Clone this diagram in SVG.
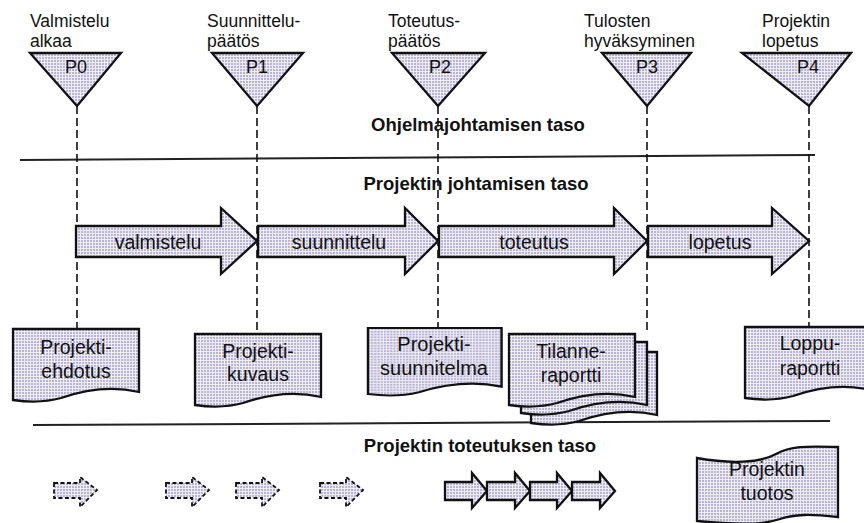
<svg xmlns="http://www.w3.org/2000/svg" width="864" height="523" viewBox="0 0 864 523">
<defs>
<pattern id="dots" width="3" height="3" patternUnits="userSpaceOnUse">
<rect width="3" height="3" fill="#eeecf5"/>
<rect width="2" height="2" fill="#b9b4d4"/>
</pattern>
<path id="doc" d="M0,0 H126 V63 C96,56 68,62 48,69 C30,74 14,73 0,71 Z"/>
</defs>
<style>
.lbl{font-family:"Liberation Sans",Arial,sans-serif;font-size:17.5px;fill:#111}
.in{font-family:"Liberation Sans",Arial,sans-serif;font-size:19.5px;fill:#111;text-anchor:middle}
.pl{font-family:"Liberation Sans",Arial,sans-serif;font-size:18px;fill:#111;text-anchor:middle}
.ttl{font-family:"Liberation Sans",Arial,sans-serif;font-size:18.5px;font-weight:bold;fill:#111;text-anchor:middle}
.shape{fill:url(#dots);stroke:#111;stroke-width:2.3;stroke-linejoin:miter}
.dsh{fill:url(#dots);stroke:#111;stroke-width:1.8;stroke-dasharray:4 2.5}
.vline{stroke:#111;stroke-width:1.6;stroke-dasharray:8 4;fill:none}
.hline{stroke:#222;stroke-width:2;fill:none}
</style>
<rect width="864" height="523" fill="#ffffff"/>

<g id="connectors">
<path class="hline" d="M20,160 L815,155"/>
<path class="hline" d="M33,425 L830,421"/>
<path class="vline" d="M77,106 V329"/>
<path class="vline" d="M257,106 V334"/>
<path class="vline" d="M438,106 V328"/>
<path class="vline" d="M647,106 V330"/>
<path class="vline" d="M809,106 V327"/>
</g>

<g id="titles">
<text class="ttl" x="478" y="131">Ohjelmajohtamisen taso</text>
<text class="ttl" x="476" y="190">Projektin johtamisen taso</text>
<text class="ttl" x="480" y="452">Projektin toteutuksen taso</text>
</g>

<g id="P0">
<text class="lbl" x="30" y="27">Valmistelu</text>
<text class="lbl" x="30" y="47">alkaa</text>
<polygon class="shape" points="30,53 121,53 77,106"/>
<text class="pl" x="76" y="73">P0</text>
</g>
<g id="P1">
<text class="lbl" x="207" y="27">Suunnittelu-</text>
<text class="lbl" x="207" y="47">päätös</text>
<polygon class="shape" points="212,53 303,53 257,106"/>
<text class="pl" x="257" y="73">P1</text>
</g>
<g id="P2">
<text class="lbl" x="388" y="27">Toteutus-</text>
<text class="lbl" x="388" y="47">päätös</text>
<polygon class="shape" points="392,53 485,53 438,106"/>
<text class="pl" x="440" y="73">P2</text>
</g>
<g id="P3">
<text class="lbl" x="584" y="27">Tulosten</text>
<text class="lbl" x="584" y="47">hyväksyminen</text>
<polygon class="shape" points="602,53 691,53 647,106"/>
<text class="pl" x="647" y="73">P3</text>
</g>
<g id="P4">
<text class="lbl" x="762" y="27">Projektin</text>
<text class="lbl" x="762" y="47">lopetus</text>
<polygon class="shape" points="742,53 851,53 809,106"/>
<text class="pl" x="808" y="73">P4</text>
</g>

<g id="phase-valmistelu">
<polygon class="shape" points="76,226 221,226 221,208 257,241 221,274 221,257 76,257"/>
<text class="in" x="158" y="249">valmistelu</text>
</g>
<g id="phase-suunnittelu">
<polygon class="shape" points="258,226 405,226 405,208 438,241 405,274 405,257 258,257"/>
<text class="in" x="339" y="249">suunnittelu</text>
</g>
<g id="phase-toteutus">
<polygon class="shape" points="439,226 614,226 614,208 647,241 614,274 614,257 439,257"/>
<text class="in" x="534" y="249">toteutus</text>
</g>
<g id="phase-lopetus">
<polygon class="shape" points="648,226 772,226 772,208 809,241 772,274 772,257 648,257"/>
<text class="in" x="720" y="249">lopetus</text>
</g>

<g id="doc-ehdotus">
<use href="#doc" class="shape" transform="translate(13,329)"/>
<text class="in" x="76" y="354">Projekti-</text>
<text class="in" x="76" y="378">ehdotus</text>
</g>
<g id="doc-kuvaus">
<use href="#doc" class="shape" transform="translate(195,334)"/>
<text class="in" x="258" y="358">Projekti-</text>
<text class="in" x="258" y="381">kuvaus</text>
</g>
<g id="doc-suunnitelma">
<use href="#doc" class="shape" transform="translate(368,328) scale(1.06,0.93)"/>
<text class="in" x="434" y="351" style="font-size:20px">Projekti-</text>
<text class="in" x="434" y="375" style="font-size:20px">suunnitelma</text>
</g>
<g id="doc-tilanneraportti">
<use href="#doc" class="shape" transform="translate(531,352)"/>
<use href="#doc" class="shape" transform="translate(521,342)"/>
<use href="#doc" class="shape" transform="translate(509,334)"/>
<text class="in" x="571" y="358">Tilanne-</text>
<text class="in" x="571" y="382">raportti</text>
</g>
<g id="doc-loppuraportti">
<use href="#doc" class="shape" transform="translate(745,327)"/>
<text class="in" x="810" y="350">Loppu-</text>
<text class="in" x="810" y="375">raportti</text>
</g>

<g id="dashed-arrows">
<polygon class="dsh" points="54,483 80,483 80,477 97,490 80,507 80,498 54,498"/>
<polygon class="dsh" points="166,483 192,483 192,477 209,490 192,507 192,498 166,498"/>
<polygon class="dsh" points="236,483 262,483 262,477 279,490 262,507 262,498 236,498"/>
<polygon class="dsh" points="320,483 346,483 346,477 363,490 346,507 346,498 320,498"/>
</g>
<g id="work-arrows">
<polygon class="shape" points="445,482 472,482 472,473 487,491 472,508 472,500 445,500"/>
<polygon class="shape" points="487,482 515,482 515,473 530,491 515,508 515,500 487,500"/>
<polygon class="shape" points="530,482 557,482 557,473 572,491 557,508 557,500 530,500"/>
<polygon class="shape" points="572,482 600,482 600,473 615,491 600,508 600,500 572,500"/>
</g>

<g id="projektin-tuotos">
<path class="shape" d="M697,458 C730,464 760,463 776,454 C790,446 805,446 838,447 V517 C810,514 795,514 780,519 C760,526 730,524 697,521 Z"/>
<text class="in" x="767" y="476">Projektin</text>
<text class="in" x="767" y="500">tuotos</text>
</g>
</svg>
